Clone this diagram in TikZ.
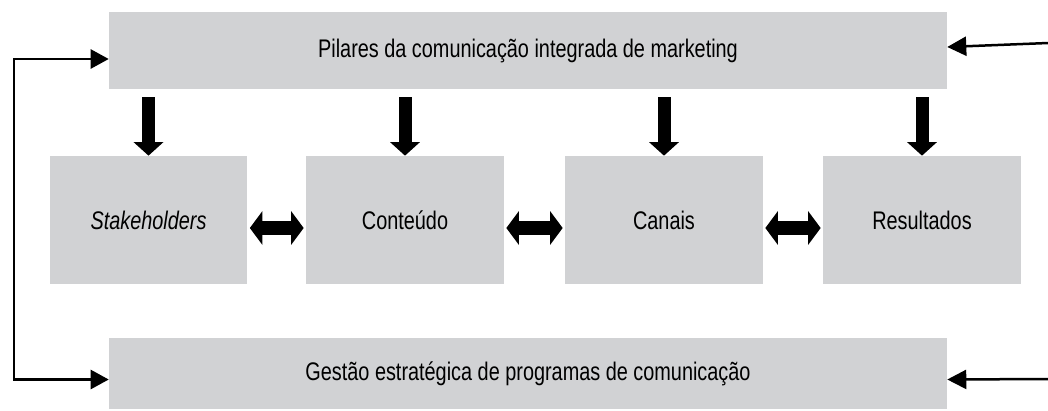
\documentclass[tikz,border=0pt]{standalone}
\usepackage{fontspec}
\setmainfont[FakeStretch=0.78]{Liberation Sans}
\usetikzlibrary{arrows.meta}
\definecolor{boxgray}{RGB}{209,210,212}
\begin{document}
\begin{tikzpicture}[x=0.02cm,y=-0.02cm,
  font=\fontsize{14.5pt}{17pt}\selectfont,
  widebox/.style={fill=boxgray,minimum width=16.76cm,inner sep=0pt},
  midbox/.style={fill=boxgray,minimum width=3.96cm,minimum height=2.56cm,inner sep=0pt},
  downarrow/.style={line width=0.26cm,-{Triangle[width=0.58cm,length=0.27cm]}},
  botharrow/.style={line width=0.28cm,{Triangle[width=0.66cm,length=0.25cm]}-{Triangle[width=0.66cm,length=0.25cm]},shorten <=0.04cm,shorten >=0.04cm},
  feed/.style={line width=0.05cm,-{Triangle[width=0.38cm,length=0.38cm]}}]
\useasboundingbox (0,0) rectangle (1048,410);
\node[widebox,minimum height=1.54cm] (pilares) at (528,50.5) {Pilares da comunicação integrada de marketing};
\node[widebox,minimum height=1.42cm] (gestao) at (528,373.5) {Gestão estratégica de programas de comunicação};
\foreach \x/\n/\t in {148.5/stake/\textit{Stakeholders}, 405/cont/Conteúdo, 664/canais/Canais, 922/result/Resultados}
   \node[midbox] (\n) at (\x,220) {\t};
% pilares feed the four parts
\foreach \n in {stake, cont, canais, result}
   \draw[downarrow] ([yshift=-0.16cm]pilares.south -| \n.north) -- (\n.north);
\foreach \a/\b in {stake/cont, cont/canais, canais/result}
   \draw[botharrow] ([yshift=-0.16cm]\a.east) -- ([yshift=-0.16cm]\b.west);
% feedback loop on the left
\coordinate (loop) at (14,220);
\draw[feed,{Triangle[width=0.38cm,length=0.36cm]}-{Triangle[width=0.38cm,length=0.36cm]}]
   ([yshift=-0.17cm]pilares.west) -| (loop) |- ([yshift=-0.12cm]gestao.west);
% inputs from the right
\coordinate (inA) at (1048,43);
\coordinate (inB) at (1048,379);
\draw[feed] (inA) -- ([yshift=0.07cm]pilares.east);
\draw[feed] (inB) -- ([yshift=-0.12cm]gestao.east);
\end{tikzpicture}
\end{document}
